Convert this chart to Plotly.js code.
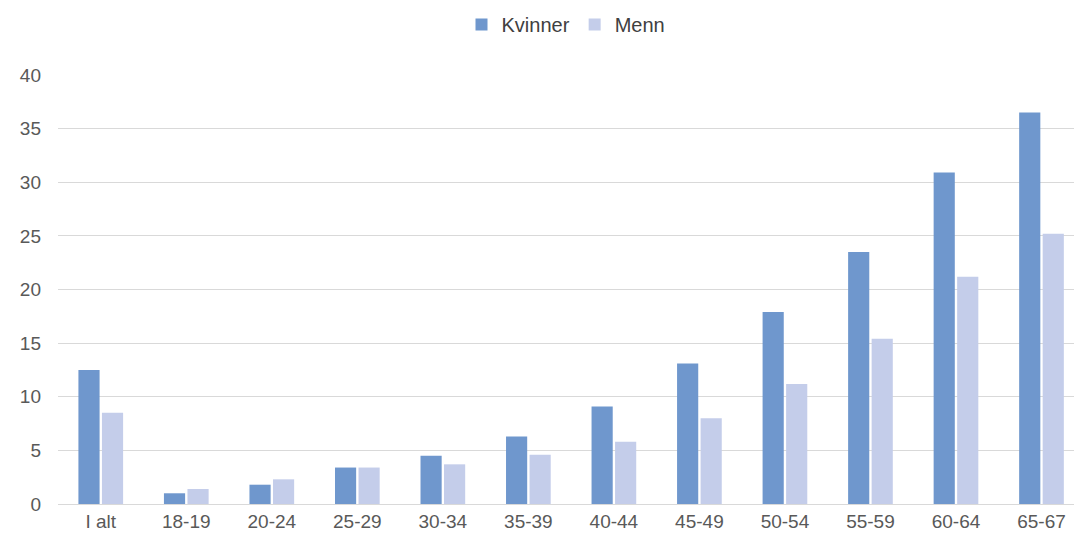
<!DOCTYPE html>
<html><head><meta charset="utf-8">
<script src="https://cdn.plot.ly/plotly-3.0.1.min.js"></script>
<style>body{margin:0}</style></head>
<body><div id="c" style="width:1074px;height:542px"></div>
<script>
const categories=["I alt","18-19","20-24","25-29","30-34","35-39","40-44","45-49","50-54","55-59","60-64","65-67"];
const kvinner=[12.5,1.0,1.8,3.4,4.5,6.3,9.1,13.1,17.9,23.5,30.9,36.5];
const menn=[8.5,1.4,2.3,3.4,3.7,4.6,5.8,8.0,11.2,15.4,21.2,25.2];
Plotly.newPlot('c',[
 {type:'bar',name:'Kvinner',x:categories,y:kvinner,marker:{color:'#6f97cd'}},
 {type:'bar',name:'Menn',x:categories,y:menn,marker:{color:'#c4cdea'}}
],{
 width:1074,height:542,margin:{l:58,r:0,t:75,b:38,autoexpand:false},
 barmode:'group',bargap:0.45,bargroupgap:0.1,
 font:{family:'Liberation Sans, Arial',size:19,color:'#595959'},
 paper_bgcolor:'#fff',plot_bgcolor:'#fff',
 legend:{orientation:'h',x:0.5,xanchor:'center',y:1.118,yanchor:'middle',itemwidth:30,font:{size:20,color:'#404040'}},
 xaxis:{range:[-0.5,11.38],showline:true,linecolor:'#d9d9d9',ticks:'',tickfont:{size:19}},
 yaxis:{range:[0,40],dtick:5,gridcolor:'#d9d9d9',zeroline:false,ticks:'',ticklabelstandoff:16,tickfont:{size:19}}
},{displayModeBar:false});
</script></body></html>
